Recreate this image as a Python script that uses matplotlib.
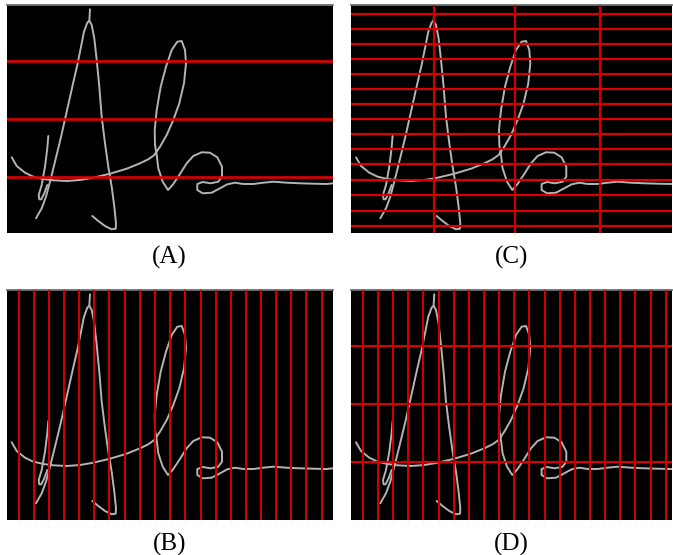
import numpy as np
import matplotlib.pyplot as plt

# signature strokes, in panel pixels (x right, y down)
stroke_left_leg = [(83.3, 4.3), (82.6, 15.7), (80.6, 17.7), (77.3, 26.7), (74.0, 43.3),
                   (70.6, 60.0), (66.0, 80.0), (60.0, 106.7), (54.0, 133.3), (48.3, 156.7),
                   (43.3, 176.7), (39.3, 191.7), (35.0, 203.3), (29.3, 213.3)]
stroke_right_leg = [(82.6, 15.7), (85.0, 20.0), (87.6, 33.3), (90.0, 55.0), (92.6, 81.7),
                    (95.0, 111.7), (98.3, 138.3), (101.6, 161.7), (105.0, 181.7), (107.6, 201.7),
                    (109.3, 218.3), (109.0, 223.7), (105.0, 224.3), (98.3, 221.0), (91.6, 216.0),
                    (85.6, 211.0)]
stroke_small = [(41.6, 131.0), (40.6, 143.3), (38.3, 161.7), (35.0, 180.0), (32.0, 190.0),
                (32.6, 194.3), (34.6, 194.3), (37.6, 188.3), (40.6, 180.0)]
stroke_main = [(5.0, 152.3), (10.0, 161.0), (18.3, 167.7), (26.6, 171.7), (36.6, 174.0),
               (46.6, 175.3), (60.0, 176.0), (73.3, 175.0), (86.6, 172.7), (103.3, 168.7),
               (120.0, 163.7), (133.3, 158.3), (141.6, 154.3), (147.6, 150.0),
               (153.3, 141.7), (160.0, 130.0), (166.6, 115.0), (172.6, 98.3), (177.3, 78.3),
               (179.3, 58.3), (178.3, 45.0), (175.0, 36.0), (170.6, 36.7), (165.0, 45.0),
               (159.3, 61.7), (154.0, 81.7), (150.0, 105.0), (148.0, 125.0), (148.3, 140.0),
               (150.0, 150.0), (151.6, 163.3), (156.0, 176.7), (161.3, 185.0), (166.6, 179.0),
               (172.6, 170.0), (180.0, 158.3), (186.6, 151.0), (195.0, 147.3), (203.3, 147.7),
               (210.6, 152.3), (215.3, 161.7), (215.3, 171.7), (211.6, 176.7), (204.0, 178.3),
               (196.0, 177.0), (190.6, 179.0), (190.6, 185.0), (196.0, 188.3), (205.0, 187.7),
               (213.3, 183.3), (220.6, 179.3), (228.3, 177.7), (236.6, 179.0), (246.6, 179.0),
               (256.6, 177.7), (266.6, 176.7), (280.0, 177.7), (293.3, 178.3), (306.6, 178.7),
               (320.0, 179.0), (326.6, 178.3)]
strokes = [stroke_left_leg, stroke_right_leg, stroke_small, stroke_main]

# grid lines per panel (panel pixels)
rows_A = [56.3, 114.0, 171.7]
cols_B = [12.3, 27.3, 42.5, 57.5, 72.5, 87.6, 102.7, 118.0, 133.3, 148.3, 163.3,
          178.3, 194.0, 209.3, 224.3, 239.3, 254.3, 269.7, 284.7, 299.7, 315.0]
rows_C = [9.0, 24.0, 39.0, 54.0, 69.0, 84.3, 99.3, 114.0, 129.3, 144.3, 159.3,
          175.0, 190.0, 205.7, 221.0]
cols_C = [83.3, 164.0, 248.7]
rows_D = [56.0, 114.0, 172.3]
cols_D = [12.3, 27.3, 42.3, 57.3, 72.3, 88.0, 103.0, 118.3, 133.3, 148.3, 163.3,
          178.3, 193.7, 209.0, 224.0, 239.0, 254.0, 269.0, 284.3, 299.7, 314.7]

W, H = 673, 555
fig = plt.figure(figsize=(W / 100, H / 100), dpi=100)


def panel(x0, y0, w, h, rows, cols, label, lw):
    ax = fig.add_axes([x0 / W, 1 - (y0 + h) / H, w / W, h / H])
    ax.set_facecolor('black')
    ax.set_xlim(0, w)
    ax.set_ylim(h, 0)
    for s in strokes:
        s = np.array(s)
        ax.plot(s[:, 0], s[:, 1], color='#b4b4b4', lw=1.4, solid_capstyle='round', zorder=2)
    for r in rows:
        ax.axhline(r, color='#dd0000', lw=lw, zorder=3)
    for c in cols:
        ax.axvline(c, color='#cc0000', lw=lw, zorder=3)
    ax.set_xticks([])
    ax.set_yticks([])
    for sp in ['left', 'right', 'bottom']:
        ax.spines[sp].set_visible(False)
    ax.spines['top'].set_color('#707070')
    ax.spines['top'].set_linewidth(1.3)
    fig.text((x0 + w / 2) / W, 1 - (y0 + h + 24.5) / H, label, ha='center', va='center',
             fontsize=18, family='Liberation Serif')
    return ax


panel(6.7, 5, 326, 228.3, rows_A, [], '(A)', 1.9)
panel(351, 5, 321, 228.3, rows_C, cols_C, '(C)', 1.6)
panel(6.7, 290, 326, 230, [], cols_B, '(B)', 1.5)
panel(351, 290, 321, 230, rows_D, cols_D, '(D)', 1.5)

fig.savefig('out.png', dpi=100, facecolor='white')
